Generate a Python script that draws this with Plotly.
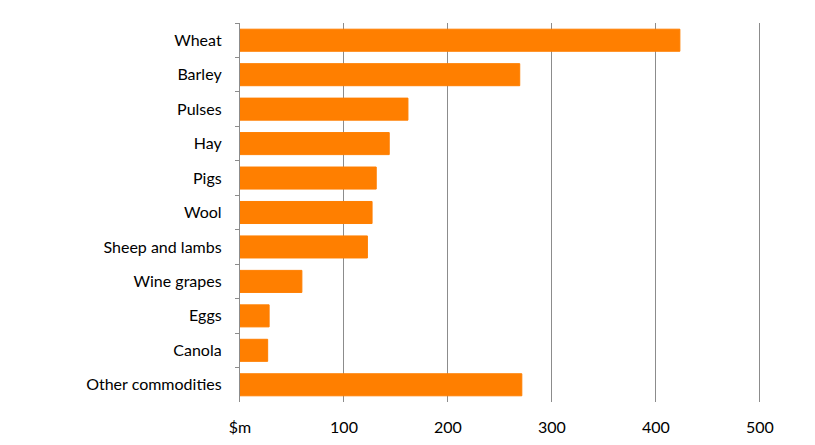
import plotly.graph_objects as go

categories = ["Wheat", "Barley", "Pulses", "Hay", "Pigs", "Wool", "Sheep and lambs",
              "Wine grapes", "Eggs", "Canola", "Other commodities"]
values = [423, 269, 161.5, 143.5, 131, 127, 122.5, 59.5, 28, 26.6, 271]
tick_vals = [0, 100, 200, 300, 400, 500]
tick_text = ["$m", "100", "200", "300", "400", "500"]

fig = go.Figure(go.Bar(
    y=categories, x=values, orientation="h",
    marker=dict(color="#FF7F00", line=dict(color="#FF7F00", width=1)),
))

fig.update_layout(
    width=815, height=445,
    margin=dict(l=232, r=62, t=14.5, b=51.3),
    paper_bgcolor="white", plot_bgcolor="white",
    bargap=0.36,
    showlegend=False,
    font=dict(family="Lato, Open Sans, sans-serif", size=16, color="#000000"),
)
fig.update_xaxes(
    range=[0, 501], tickvals=tick_vals, ticktext=tick_text,
    showgrid=True, gridcolor="#8C8C8C", gridwidth=1.3,
    zeroline=False, showline=False, ticks="", ticklabelstandoff=14,
)
fig.update_yaxes(
    autorange="reversed", type="category",
    showline=True, linecolor="#8C8C8C", linewidth=1.3,
    ticks="outside", ticklen=4, tickcolor="#8C8C8C", tickson="boundaries",
    showgrid=False, ticklabelstandoff=14,
)

fig.write_html("out.html")
